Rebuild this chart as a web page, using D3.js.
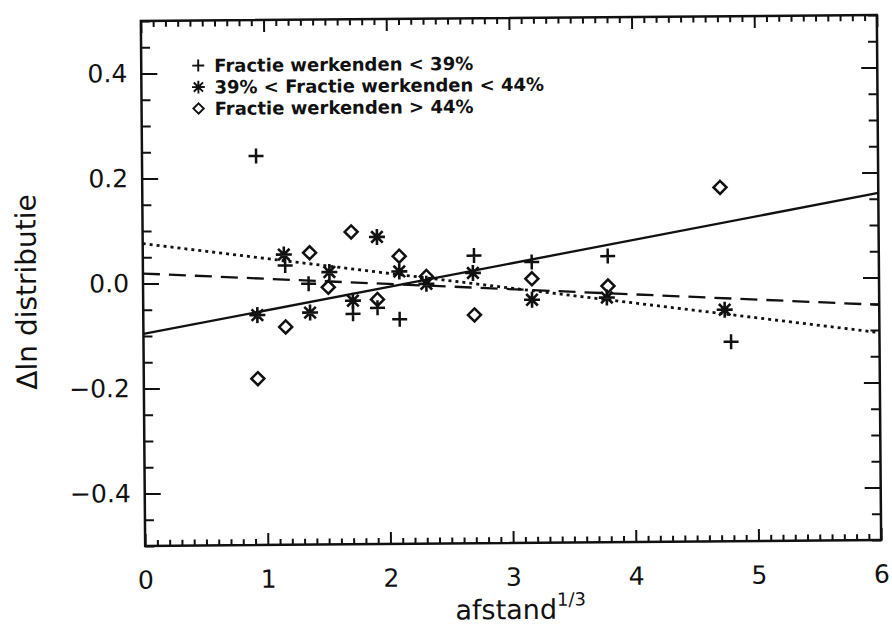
<!DOCTYPE html>
<html>
<head>
<meta charset="utf-8">
<script src="https://cdn.jsdelivr.net/npm/d3@7"></script>
<style>
  body { margin: 0; background: #fff; }
  text { font-family: "DejaVu Sans", sans-serif; fill: #111; }
</style>
</head>
<body>
<script>
// afstand^(1/3) vs. delta ln distributie, three groups by fraction of workers

// Fractie werkenden < 39%
const plusX = [0.93, 1.16, 1.35, 1.71, 1.91, 2.09, 2.70, 3.17, 3.79, 4.79];
const plusY = [0.241, 0.032, -0.003, -0.061, -0.050, -0.072, 0.048, 0.035, 0.045, -0.120];

// 39% < Fractie werkenden < 44%
const starX = [0.93, 1.15, 1.36, 1.52, 1.71, 1.91, 2.09, 2.31, 2.69, 3.17, 3.78, 4.74];
const starY = [-0.062, 0.053, -0.058, 0.019, -0.036, 0.085, 0.019, -0.005, 0.015, -0.037, -0.034, -0.059];

// Fractie werkenden > 44%
const diamX = [0.93, 1.16, 1.36, 1.51, 1.70, 1.91, 2.09, 2.31, 2.70, 3.17, 3.79, 4.71];
const diamY = [-0.183, -0.085, 0.056, -0.010, 0.095, -0.034, 0.048, 0.009, -0.065, 0.003, -0.012, 0.174];

// fitted lines, value at afstand = 0 and afstand = 6
const fitX = [0, 6];
const fitSolid = [-0.096, 0.161];
const fitDashed = [0.019, -0.052];
const fitDotted = [0.076, -0.105];

const legendLabels = [
    "Fractie werkenden < 39%",
    "39% < Fractie werkenden < 44%",
    "Fractie werkenden > 44%"
];

const width = 892;
const height = 630;
const margin = { top: 18, right: 13, bottom: 87, left: 143 };
const chartWidth = width - margin.left - margin.right;
const chartHeight = height - margin.top - margin.bottom;

const xScale = d3.scaleLinear().domain([0, 6]).range([0, chartWidth]);
const yScale = d3.scaleLinear().domain([-0.5, 0.5]).range([chartHeight, 0]);

const svg = d3.select("body")
    .append("svg")
    .attr("width", width)
    .attr("height", height);

// the whole figure sits slightly tilted
const root = svg.append("g")
    .attr("transform", `rotate(-0.47, ${margin.left + chartWidth / 2}, ${margin.top + chartHeight / 2})`);

const chart = root.append("g")
    .attr("transform", `translate(${margin.left}, ${margin.top})`);

// ticks (all pointing inward)
const xMajor = d3.range(0, 7, 1);
const xMinor = d3.range(0, 61, 1).map(d => d / 10).filter(d => d % 1 !== 0);
const yMajor = [-0.4, -0.2, 0, 0.2, 0.4];
const yMinor = d3.range(-10, 11, 1).map(d => d / 20).filter(d => !yMajor.some(m => Math.abs(m - d) < 1e-9));

const fmt = d3.format(".1f");

function styleAxis(g) {
    g.select(".domain").remove();
    g.selectAll("line").attr("stroke", "#111").attr("stroke-width", 2);
}

chart.append("g")
    .attr("transform", `translate(0, ${chartHeight})`)
    .call(d3.axisBottom(xScale).tickValues(xMajor).tickSizeInner(-12).tickSizeOuter(0).tickPadding(25).tickFormat(d3.format("d")))
    .call(styleAxis)
    .selectAll("text")
    .style("font-size", "25px");

chart.append("g")
    .attr("transform", `translate(0, ${chartHeight})`)
    .call(d3.axisBottom(xScale).tickValues(xMinor).tickSizeInner(-6).tickSizeOuter(0).tickFormat(""))
    .call(styleAxis);

chart.append("g")
    .call(d3.axisTop(xScale).tickValues(xMajor).tickSizeInner(-12).tickSizeOuter(0).tickFormat(""))
    .call(styleAxis);

chart.append("g")
    .call(d3.axisTop(xScale).tickValues(xMinor).tickSizeInner(-6).tickSizeOuter(0).tickFormat(""))
    .call(styleAxis);

chart.append("g")
    .call(d3.axisLeft(yScale).tickValues(yMajor).tickSizeInner(-16).tickSizeOuter(0).tickPadding(14).tickFormat(fmt))
    .call(styleAxis)
    .selectAll("text")
    .style("font-size", "25px");

chart.append("g")
    .call(d3.axisLeft(yScale).tickValues(yMinor).tickSizeInner(-9).tickSizeOuter(0).tickFormat(""))
    .call(styleAxis);

chart.append("g")
    .attr("transform", `translate(${chartWidth}, 0)`)
    .call(d3.axisRight(yScale).tickValues(yMajor).tickSizeInner(-16).tickSizeOuter(0).tickFormat(""))
    .call(styleAxis);

chart.append("g")
    .attr("transform", `translate(${chartWidth}, 0)`)
    .call(d3.axisRight(yScale).tickValues(yMinor).tickSizeInner(-9).tickSizeOuter(0).tickFormat(""))
    .call(styleAxis);

// frame
chart.append("rect")
    .attr("width", chartWidth)
    .attr("height", chartHeight)
    .attr("fill", "none")
    .attr("stroke", "#111")
    .attr("stroke-width", 2.5);

// fit lines
const line = d3.line().x(d => xScale(d[0])).y(d => yScale(d[1]));
const fits = [
    { values: fitSolid, dash: null, w: 2.3 },
    { values: fitDashed, dash: "17,9", w: 2.3 },
    { values: fitDotted, dash: "3,4", w: 2.8 }
];
chart.selectAll(".fit")
    .data(fits)
    .enter()
    .append("path")
    .attr("class", "fit")
    .attr("d", d => line(fitX.map((x, i) => [x, d.values[i]])))
    .attr("fill", "none")
    .attr("stroke", "#111")
    .attr("stroke-width", d => d.w)
    .attr("stroke-dasharray", d => d.dash);

// marker shapes, centred on 0,0
const plusPath = s => `M${-s},0H${s}M0,${-s}V${s}`;
const starPath = s => {
    const a = s * 0.72;
    return `M${-s},0H${s}M0,${-s}V${s}M${-a},${-a}L${a},${a}M${-a},${a}L${a},${-a}`;
};
const diamPath = s => `M0,${-s}L${s},0L0,${s}L${-s},0Z`;

const series = [
    { xs: plusX, ys: plusY, shape: plusPath(7.5), width: 2.5 },
    { xs: starX, ys: starY, shape: starPath(8), width: 2.6 },
    { xs: diamX, ys: diamY, shape: diamPath(6.5), width: 2.5 }
];

series.forEach(s => {
    chart.append("g")
        .selectAll("path")
        .data(s.xs.map((x, i) => ({ x: x, y: s.ys[i] })))
        .enter()
        .append("path")
        .attr("transform", d => `translate(${xScale(d.x)}, ${yScale(d.y)})`)
        .attr("d", s.shape)
        .attr("fill", "none")
        .attr("stroke", "#111")
        .attr("stroke-width", s.width);
});

// legend
const legend = chart.append("g")
    .attr("transform", `translate(${200 - margin.left}, ${63 - margin.top})`);

legendLabels.forEach((label, i) => {
    const row = legend.append("g").attr("transform", `translate(0, ${i * 21.5})`);
    row.append("path")
        .attr("d", series[i].shape)
        .attr("transform", "scale(0.8)")
        .attr("fill", "none")
        .attr("stroke", "#111")
        .attr("stroke-width", 2.4);
    row.append("text")
        .attr("x", 16)
        .attr("y", 6.5)
        .style("font-size", "18px")
        .style("font-weight", "bold")
        .text(label);
});

// axis titles
const xTitle = root.append("text")
    .attr("x", 518)
    .attr("y", 619)
    .attr("text-anchor", "middle")
    .style("font-size", "27px");
xTitle.append("tspan").text("afstand");
xTitle.append("tspan")
    .attr("dy", -13)
    .style("font-size", "18px")
    .text("1/3");

root.append("text")
    .attr("transform", "translate(36, 288) rotate(-90)")
    .attr("text-anchor", "middle")
    .style("font-size", "28px")
    .text("Δln distributie");
</script>
</body>
</html>
